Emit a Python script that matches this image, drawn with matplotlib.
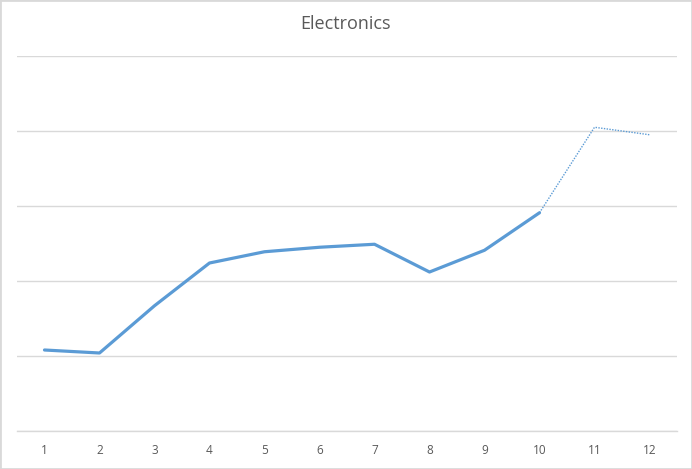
import matplotlib
matplotlib.use('Agg')
import matplotlib.pyplot as plt
from matplotlib.patches import Rectangle

months = [1, 2, 3, 4, 5, 6, 7, 8, 9, 10, 11, 12]
sales = [108, 104, 167, 224, 239, 245, 249, 212, 241, 291, 405, 395]
n_actual = 10  # months 1-10 are actual, 10-12 forecast (dotted)

blue = '#5B9BD5'
grid = '#D9D9D9'
text = '#595959'

plt.rcParams['font.family'] = ['Open Sans', 'DejaVu Sans']

fig = plt.figure(figsize=(6.92, 4.69), dpi=100)
ax = fig.add_axes([17 / 692, 38 / 469, 660 / 692, 375 / 469])

ax.plot(months[:n_actual], sales[:n_actual], color=blue, lw=2.3,
        solid_capstyle='round', solid_joinstyle='round', zorder=3)
ax.plot(months[n_actual - 1:], sales[n_actual - 1:], color=blue, lw=1.0,
        linestyle=(0, (1, 1)), zorder=3)

ax.set_xlim(0.5, 12.5)
ax.set_ylim(0, 500)
ax.set_yticks(range(0, 501, 100))
ax.set_yticklabels([])
ax.yaxis.grid(True, color=grid, lw=1)
ax.set_xticks(months)
ax.set_xticklabels([str(m) for m in months], color=text, fontsize=8.5)
ax.tick_params(axis='both', length=0, pad=9)

for s in ['top', 'left', 'right']:
    ax.spines[s].set_visible(False)
ax.spines['bottom'].set_color(grid)
ax.spines['bottom'].set_linewidth(1)

fig.text(0.5, 1 - 24 / 469, 'Electronics', ha='center', va='center',
         fontsize=13, color=text)

fig.patches.append(Rectangle((0, 0), 1, 1, transform=fig.transFigure,
                             fill=False, edgecolor=grid, lw=2))

fig.savefig('out.png', dpi=100)
